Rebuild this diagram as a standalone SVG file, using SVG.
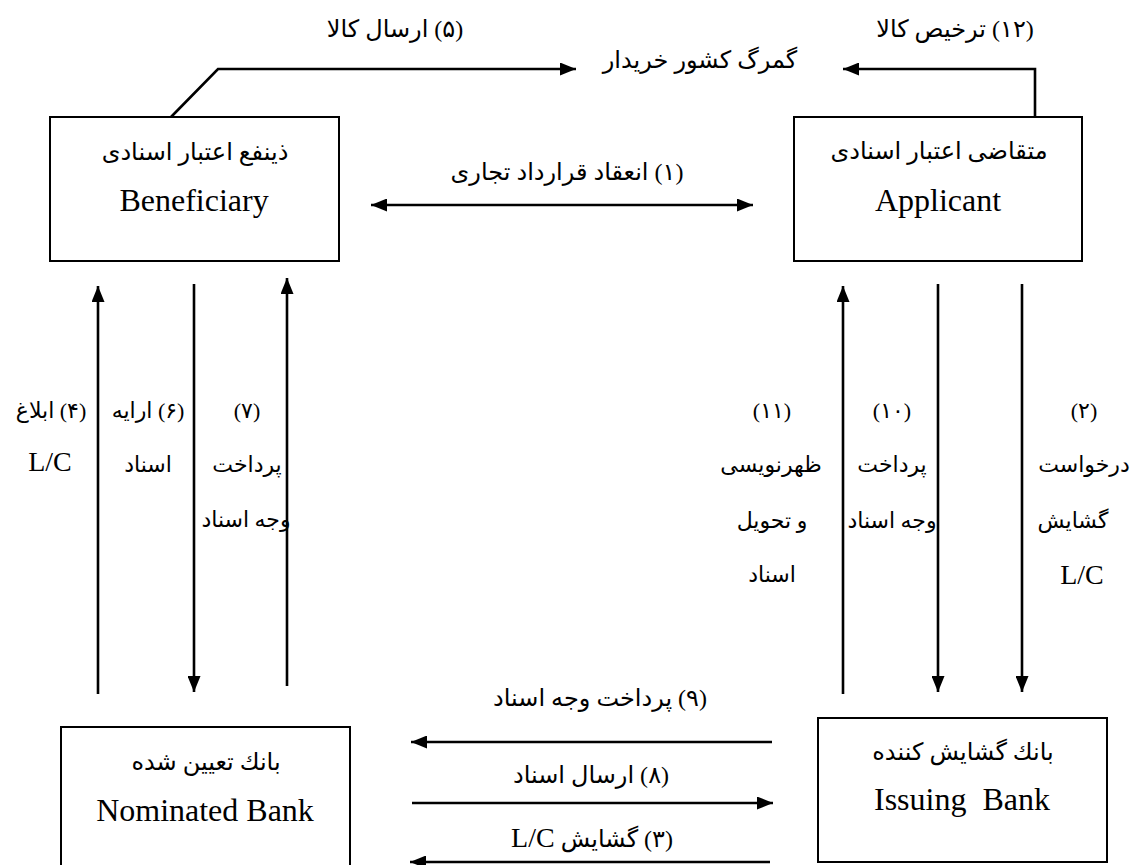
<svg xmlns="http://www.w3.org/2000/svg" width="1135" height="865" viewBox="0 0 1135 865">
<style>
.box{fill:#fff;stroke:#000;stroke-width:2}
.con{fill:none;stroke:#000;stroke-width:2.6}
.en{font-family:'Liberation Serif',serif;font-size:32px;text-anchor:middle;fill:#000}
.fa{font-family:'Liberation Serif','DejaVu Sans',sans-serif;font-size:24px;text-anchor:middle;direction:rtl;unicode-bidi:embed;fill:#000}
.fv{font-family:'Liberation Serif','DejaVu Sans',sans-serif;font-size:22px;text-anchor:middle;direction:rtl;unicode-bidi:embed;fill:#000}
.lc{font-family:'Liberation Serif',serif;font-size:28px;text-anchor:middle;fill:#000}
</style>
<defs>
<marker id="ah" markerWidth="16" markerHeight="13" refX="16" refY="6.5" orient="auto-start-reverse" markerUnits="userSpaceOnUse"><path d="M0,0 L16,6.5 L0,13 z" fill="#000"/></marker>
</defs>
<rect width="1135" height="865" fill="#fff"/>
<g id="connectors">
<path class="con" d="M171,117 L218,69 L576,69" marker-end="url(#ah)"/>
<path class="con" d="M1035,117 L1035,69 L843,69" marker-end="url(#ah)"/>
<path class="con" d="M371,205 L753,205" marker-start="url(#ah)" marker-end="url(#ah)"/>
<path class="con" d="M98,694 L98,286" marker-end="url(#ah)"/>
<path class="con" d="M194,284 L194,692" marker-end="url(#ah)"/>
<path class="con" d="M287,686 L287,278" marker-end="url(#ah)"/>
<path class="con" d="M843,694 L843,286" marker-end="url(#ah)"/>
<path class="con" d="M938,284 L938,692" marker-end="url(#ah)"/>
<path class="con" d="M1022,284 L1022,692" marker-end="url(#ah)"/>
<path class="con" d="M772,742 L411,742" marker-end="url(#ah)"/>
<path class="con" d="M412,803 L773,803" marker-end="url(#ah)"/>
<path class="con" d="M770,862 L410,862" marker-end="url(#ah)"/>
</g>
<g id="labels">
<text class="fa" x="395" y="37">(۵) ارسال کالا</text>
<text class="fa" x="700" y="68">گمرگ کشور خریدار</text>
<text class="fa" x="955" y="37">(۱۲) ترخیص کالا</text>
<text class="fa" x="567" y="180">(۱) انعقاد قرارداد تجاری</text>
<text class="fv" x="51" y="418">(۴) ابلاغ</text>
<text class="lc" x="50" y="471">L/C</text>
<text class="fv" x="148" y="418">(۶) ارایه</text>
<text class="fv" x="148" y="472">اسناد</text>
<text class="fv" x="247" y="418">(۷)</text>
<text class="fv" x="247" y="472">پرداخت</text>
<text class="fv" x="246" y="527">وجه اسناد</text>
<text class="fv" x="772" y="418">(۱۱)</text>
<text class="fv" x="771" y="472">ظهرنویسی</text>
<text class="fv" x="772" y="528">و تحویل</text>
<text class="fv" x="772" y="582">اسناد</text>
<text class="fv" x="892" y="418">(۱۰)</text>
<text class="fv" x="892" y="472">پرداخت</text>
<text class="fv" x="892" y="528">وجه اسناد</text>
<text class="fv" x="1084" y="418">(۲)</text>
<text class="fv" x="1084" y="472">درخواست</text>
<text class="fv" x="1073" y="528">گشایش</text>
<text class="lc" x="1082" y="584">L/C</text>
<text class="fa" x="600" y="706">(۹) پرداخت وجه اسناد</text>
<text class="fa" x="591" y="783">(۸) ارسال اسناد</text>
<text class="fa" x="592" y="847">(۳) گشایش <tspan style="font-size:28px">L/C</tspan></text>
</g>
<g id="beneficiary">
<rect class="box" x="50" y="117" width="289" height="144"/>
<text class="fa" x="195" y="160">ذینفع اعتبار اسنادی</text>
<text class="en" x="194" y="211">Beneficiary</text>
</g>
<g id="applicant">
<rect class="box" x="794" y="117" width="288" height="144"/>
<text class="fa" x="939" y="159">متقاضی اعتبار اسنادی</text>
<text class="en" x="938" y="211">Applicant</text>
</g>
<g id="nominated-bank">
<rect class="box" x="61" y="727" width="289" height="144"/>
<text class="fa" x="206" y="770">بانك تعیین شده</text>
<text class="en" x="205" y="821">Nominated Bank</text>
</g>
<g id="issuing-bank">
<rect class="box" x="818" y="718" width="289" height="144"/>
<text class="fa" x="963" y="760">بانك گشایش کننده</text>
<text class="en" x="962" y="810" xml:space="preserve">Issuing  Bank</text>
</g>
</svg>
